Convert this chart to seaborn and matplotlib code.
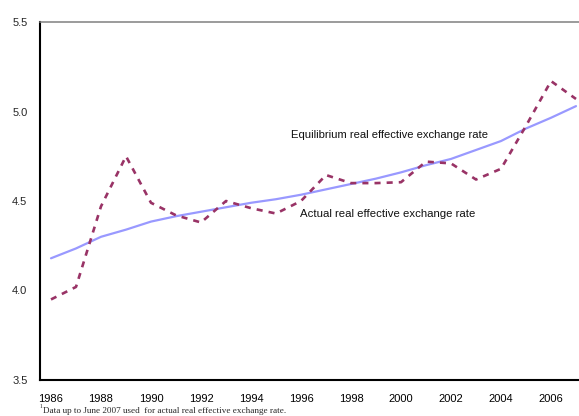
import matplotlib
matplotlib.use("Agg")
import matplotlib.pyplot as plt
import seaborn as sns
import pandas as pd

# values
years = list(range(1986, 2008))
actual = [3.95, 4.02, 4.47, 4.75, 4.49, 4.42, 4.38, 4.50, 4.46, 4.43, 4.50,
          4.645, 4.60, 4.60, 4.605, 4.72, 4.71, 4.62, 4.68, 4.92, 5.17, 5.07]
equilibrium = [4.18, 4.235, 4.30, 4.34, 4.385, 4.415, 4.44, 4.465, 4.49, 4.51, 4.535,
               4.565, 4.595, 4.625, 4.66, 4.70, 4.735, 4.785, 4.835, 4.905, 4.965, 5.03]
tick_years = list(range(1986, 2007, 2))
y_ticks = [3.5, 4.0, 4.5, 5.0, 5.5]

df = pd.DataFrame({"year": years, "actual": actual, "equilibrium": equilibrium})

sns.set_style("white")
plt.rcParams["font.family"] = ["Liberation Sans", "DejaVu Sans"]

fig = plt.figure(figsize=(5.79, 4.16), dpi=100)
ax = fig.add_axes([40 / 579, 36 / 416, 1 - 40 / 579, 358 / 416])

sns.lineplot(data=df, x="year", y="equilibrium", ax=ax, color="#9999ff", lw=1.6)
sns.lineplot(data=df, x="year", y="actual", ax=ax, color="#993366", lw=1.9,
             linestyle=(0, (2.3, 2.3)))

ax.set_xlim(1985.56, 2007.12)
ax.set_ylim(3.5, 5.5)
ax.set_xlabel("")
ax.set_ylabel("")

ax.set_xticks(tick_years)
ax.set_xticklabels([str(y) for y in tick_years])
ax.set_xticks([y + 1.5 for y in tick_years[:-1]] + [2005.5], minor=True)
ax.set_yticks(y_ticks)
ax.set_yticklabels([f"{v:.1f}" for v in y_ticks])
ax.tick_params(axis="x", which="major", length=0, pad=10, labelsize=8, colors="#000000")
ax.tick_params(axis="x", which="minor", direction="in", length=3, width=0.8, color="#000000")
ax.tick_params(axis="y", direction="in", length=3, width=0.8, pad=9, labelsize=8)

for s in ["left", "bottom"]:
    ax.spines[s].set_color("#000000")
    ax.spines[s].set_linewidth(1.5)
ax.spines["top"].set_color("#808080")
ax.spines["top"].set_linewidth(1.1)
ax.spines["right"].set_visible(False)

ax.text(1995.6, 4.869, "Equilibrium real effective exchange rate", fontsize=8.1,
        va="center", ha="left", color="#111111")
ax.text(1995.96, 4.427, "Actual real effective exchange rate", fontsize=8.2,
        va="center", ha="left", color="#111111")

fig.text(40 / 579, 0.024, "1", fontsize=4.2, family=["Liberation Serif"], va="center")
fig.text(43 / 579, 0.012, "Data up to June 2007 used  for actual real effective exchange rate.",
         fontsize=6.6, family=["Liberation Serif"], va="center")

fig.savefig("out.png", dpi=100)
